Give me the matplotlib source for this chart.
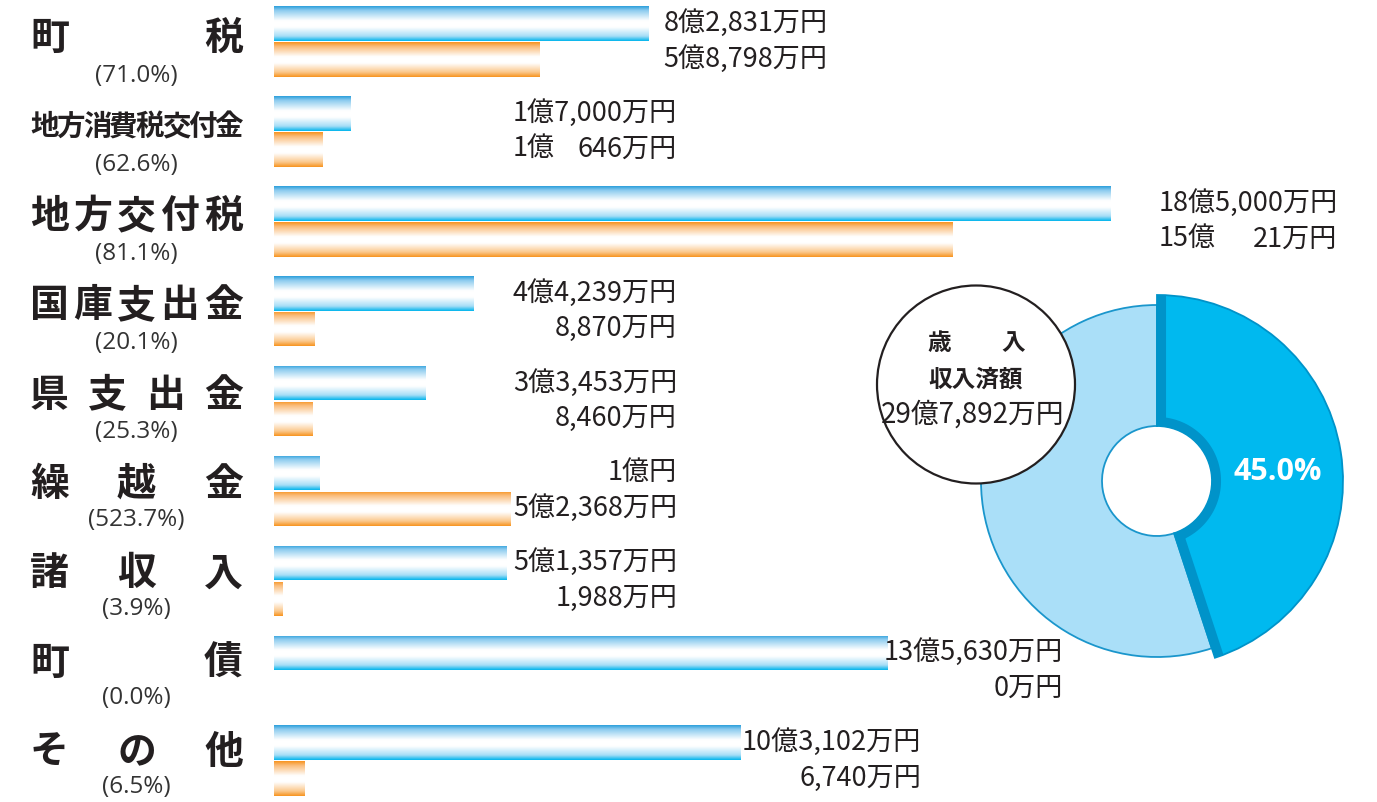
import numpy as np
import matplotlib
matplotlib.use('Agg')
import matplotlib.pyplot as plt
from matplotlib.patches import Wedge, Circle, PathPatch
from matplotlib.path import Path
from matplotlib.colors import LinearSegmentedColormap

plt.rcParams['font.family'] = ['Noto Sans CJK JP', 'DejaVu Sans']

# ---------------- data (万円) ----------------
categories = ['町税', '地方消費税交付金', '地方交付税', '国庫支出金', '県支出金',
              '繰越金', '諸収入', '町債', 'その他']
budget = [82831, 17000, 185000, 44239, 33453, 10000, 51357, 135630, 103102]
received = [58798, 10646, 150021, 8870, 8460, 52368, 1988, 0, 6740]
rates = [71.0, 62.6, 81.1, 20.1, 25.3, 523.7, 3.9, 0.0, 6.5]
total_received = 297892
donut_title = ['歳入', '収入済額']

# ---------------- layout ----------------
W, H = 1377, 803
TXT = '#231f20'
fig = plt.figure(figsize=(W / 100, H / 100), dpi=100)

axb = fig.add_axes([0, 0, 1, 1])
axb.axis('off')
axp = fig.add_axes([0, 0, 1, 1])
axp.axis('off')
axp.patch.set_visible(False)
axp.set_xlim(0, W)
axp.set_ylim(H, 0)

scale = 0.00452      # px per 万円
x0px = 274
row0, rowstep = 42.5, 89.9
xlim = (-x0px / scale, (W - x0px) / scale)
ylim = ((H - row0) / rowstep, -row0 / rowstep)
axb.set_xlim(*xlim)
axb.set_ylim(*ylim)

y = np.arange(len(categories))
off, hgt = 0.2, 0.385
bars_b = axb.barh(y - off, budget, height=hgt, color='none', edgecolor='none')
bars_r = axb.barh(y + off, received, height=hgt, color='none', edgecolor='none')

blue_cmap = LinearSegmentedColormap.from_list('b', [
    (0.0, '#2a9edb'), (0.12, '#8ccbef'), (0.42, '#ffffff'), (0.6, '#ffffff'),
    (0.86, '#a6def7'), (1.0, '#00b4ec')])
orange_cmap = LinearSegmentedColormap.from_list('o', [
    (0.0, '#f7931e'), (0.12, '#fabb78'), (0.42, '#ffffff'), (0.6, '#ffffff'),
    (0.86, '#fbc88c'), (1.0, '#f7931e')])
grad = np.linspace(0, 1, 256).reshape(-1, 1)

for bars, cmap in ((bars_b, blue_cmap), (bars_r, orange_cmap)):
    for p in bars:
        bx, by, bw, bh = p.get_x(), p.get_y(), p.get_width(), p.get_height()
        if bw <= 0:
            continue
        im = axb.imshow(grad, cmap=cmap, extent=(bx, bx + bw, by + bh, by),
                        origin='upper', aspect='auto', interpolation='bilinear')
        im.set_clip_path(p)
axb.set_xlim(*xlim)
axb.set_ylim(*ylim)


def to_px(xd, yd):
    dx, dy = axb.transData.transform((xd, yd))
    return dx, H - dy


def fmt(v):
    oku, man = divmod(v, 10000)
    if oku == 0:
        return f'{man:,}万円'
    if man == 0:
        return f'{oku}億円'
    return f'{oku}億{man:,}万円'


renderer = fig.canvas.get_renderer()
VFS = 19.5


def width_of(s, **kw):
    t = axp.text(0, 0, s, fontsize=VFS, **kw)
    w = t.get_window_extent(renderer=renderer).width
    t.remove()
    return w


pads = [15, 0, 48, 0, 0, 0, 0, -3, 2]
for i in range(len(categories)):
    bend, ycb = to_px(budget[i], y[i] - off)
    _, ycr = to_px(0, y[i] + off)
    ycb -= 1.5
    ycr -= 1.5
    lb = fmt(budget[i])
    wb = width_of(lb)
    xr = max(677, bend + pads[i] + wb)
    axp.text(xr, ycb, lb, ha='right', va='center', fontsize=VFS, color=TXT)
    oku, man = divmod(received[i], 10000)
    if oku > 0 and 0 < man < 1000:
        axp.text(xr - wb, ycr, f'{oku}億', ha='left', va='center', fontsize=VFS, color=TXT)
        axp.text(xr, ycr, f'{man}万円', ha='right', va='center', fontsize=VFS, color=TXT)
    else:
        axp.text(xr, ycr, fmt(received[i]), ha='right', va='center', fontsize=VFS, color=TXT)

# category labels (justified)
for i, name in enumerate(categories):
    fs = 28 if len(name) <= 5 else 20.5
    em = fs * 100 / 72
    n = len(name)
    cxs = np.linspace(30 + em / 2, 243 - em / 2, n)
    yl = 38 + 89.3 * i
    for ch, cx in zip(name, cxs):
        axp.text(cx, yl, ch, ha='center', va='center', fontsize=fs,
                 fontweight='bold', color=TXT)
    axp.text(136, 76 + 88.9 * i, f'({rates[i]:.1f}%)', ha='center', va='center',
             fontsize=17.5, color='#333333', family=['Open Sans', 'Noto Sans CJK JP'])

# ---------------- donut ----------------
share = total_received / sum(budget)
cx, cy = 1157, 482
r_in, r_light, r_dark = 55, 176, 186
a_end = 90 - 360 * share          # visual angle (clockwise from top)
# pixel axes has y inverted -> data angle = -visual angle
d1, d2 = -90, -a_end
light = Wedge((cx, cy), r_light, d2, 270, width=r_light - r_in,
              facecolor='#aadff8', edgecolor='#1a96cc', linewidth=1.3, zorder=2)
axp.add_patch(light)
dark = Wedge((cx, cy), r_dark, d1, d2, width=r_dark - r_in,
             facecolor='#00b9ef', edgecolor='#0093c9', linewidth=1.3, zorder=3)
axp.add_patch(dark)
ths = np.radians(np.linspace(d1, d2, 100))
pts = [(cx + r_dark * np.cos(ths[0]), cy + r_dark * np.sin(ths[0]))]
pts += [(cx + r_in * np.cos(t), cy + r_in * np.sin(t)) for t in ths]
pts += [(cx + r_dark * np.cos(ths[-1]), cy + r_dark * np.sin(ths[-1]))]
edge = PathPatch(Path(pts), facecolor='none', edgecolor='#0093c9',
                 linewidth=13, zorder=4, capstyle='butt', joinstyle='miter')
axp.add_patch(edge)
edge.set_clip_path(dark)

axp.text(1278, 472, f'{share * 100:.1f}%', ha='center', va='center', fontsize=22,
         fontweight='bold', color='white', zorder=5,
         family=['Open Sans', 'Noto Sans CJK JP'])

# ---------------- centre circle ----------------
ccx, ccy, cr = 976, 385.5, 99
axp.add_patch(Circle((ccx, ccy), cr, facecolor='white', edgecolor=TXT,
                     linewidth=1.6, zorder=6))
t0 = donut_title[0]
for ch, xx in zip(t0, np.linspace(939, 1013, len(t0))):
    axp.text(xx, 343, ch, ha='center', va='center', fontsize=17,
             fontweight='bold', color=TXT, zorder=7)
axp.text(ccx, 380, donut_title[1], ha='center', va='center', fontsize=17,
         fontweight='bold', color=TXT, zorder=7)
axp.text(ccx - 3, 415, fmt(total_received), ha='center', va='center', fontsize=20,
         color=TXT, zorder=7)

fig.savefig('out.png', dpi=100)
